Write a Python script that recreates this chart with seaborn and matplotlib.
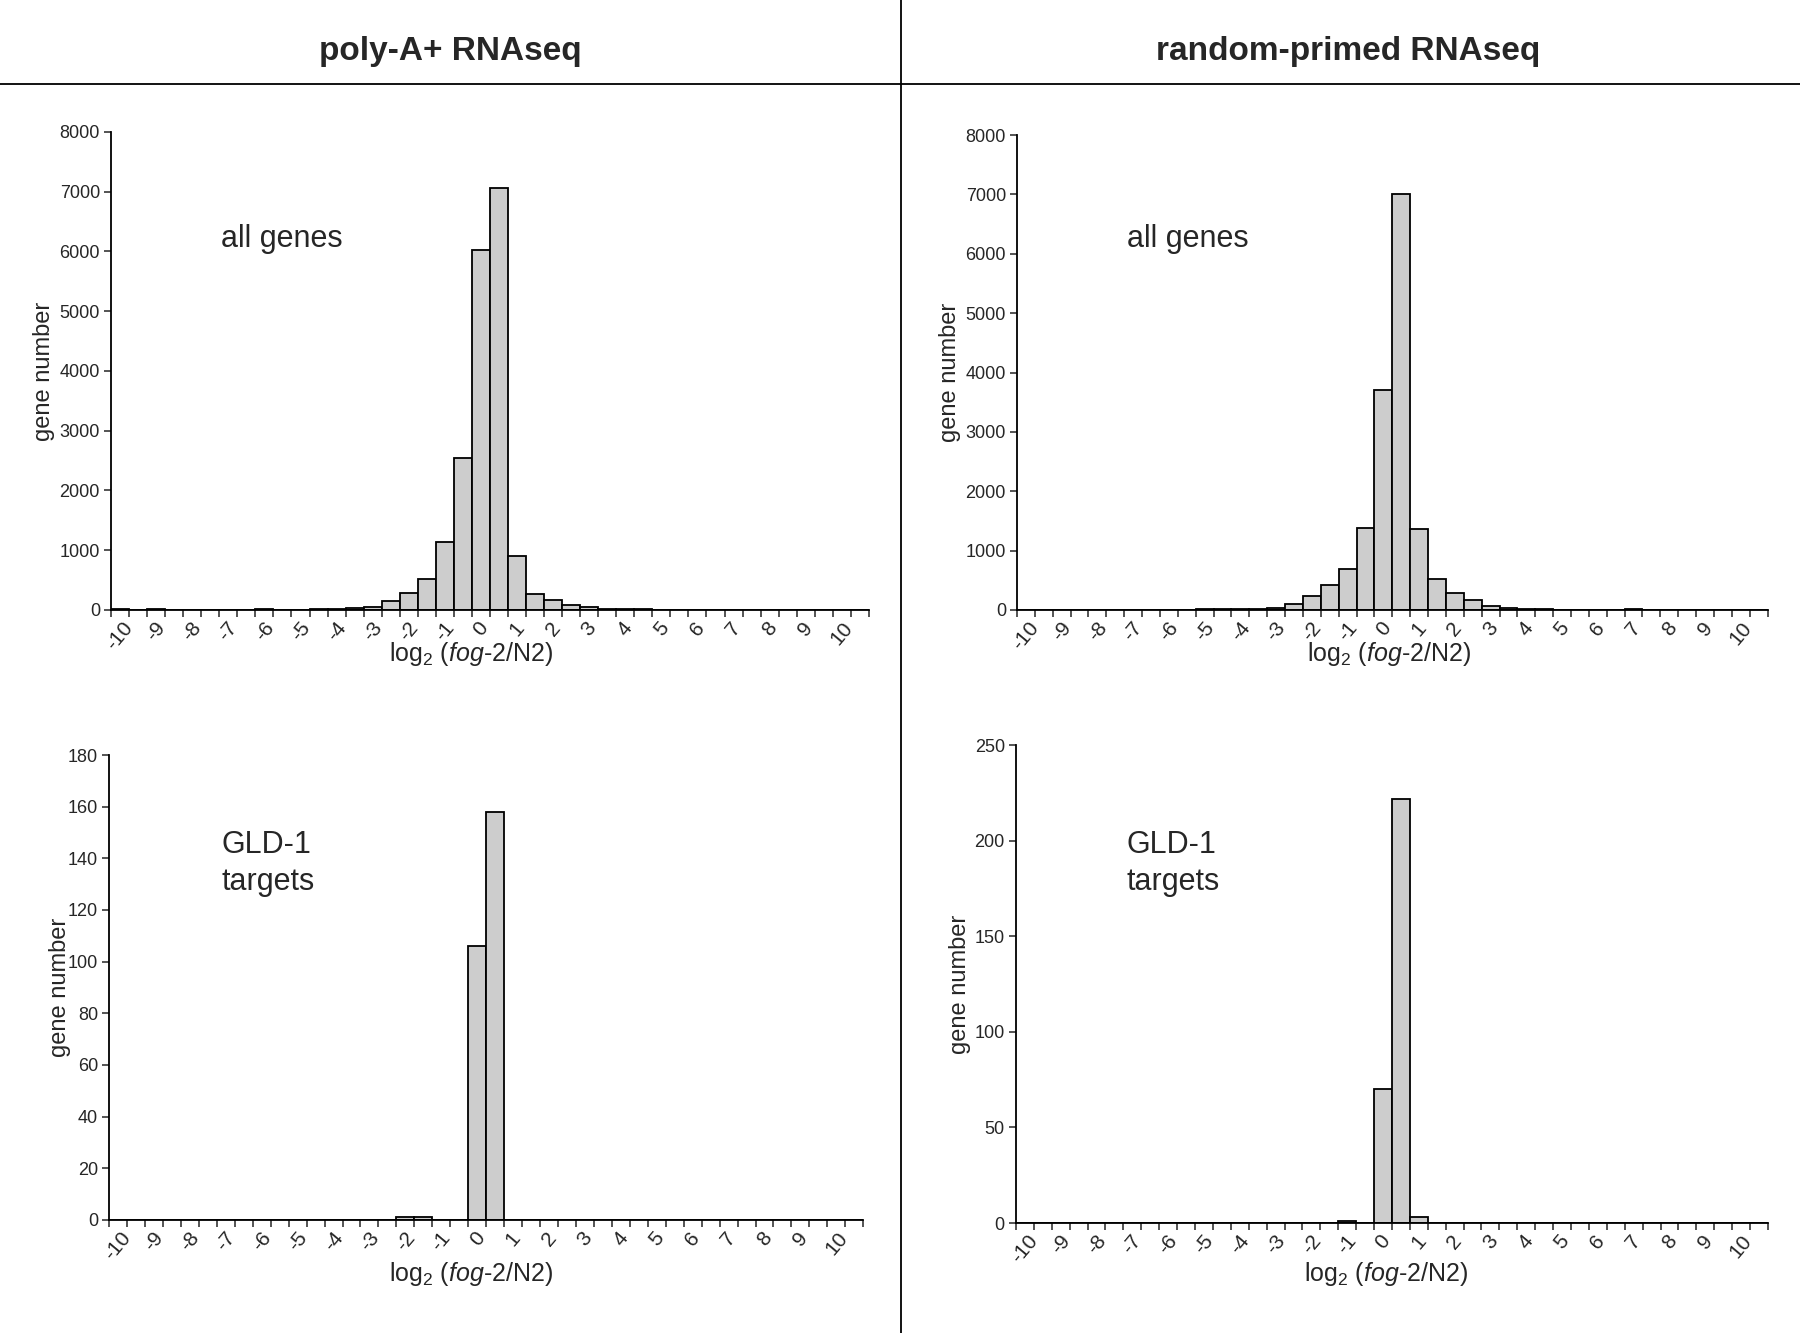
import numpy as np
import pandas as pd
import matplotlib
matplotlib.use('Agg')
import matplotlib.pyplot as plt
from matplotlib.lines import Line2D
import seaborn as sns

# histogram categories (Excel style: -10 .. 10 by 0.5, plus "More")
bins = [f'{b:g}' for b in np.arange(-10, 10.5, 0.5)] + ['More']

polyA_all = [20, 0, 18, 0, 0, 0, 0, 0, 15, 0, 0, 15, 15, 30, 55, 150, 280, 525, 1140, 2550,
             6020, 7060, 910, 262, 170, 80, 42, 15, 12, 12, 0, 0, 0, 0, 0, 0, 0, 0, 0, 0, 0, 0]
random_all = [0, 0, 0, 0, 0, 0, 0, 0, 0, 0, 15, 15, 15, 15, 40, 100, 235, 425, 690, 1380,
              3700, 7000, 1360, 517, 283, 165, 75, 36, 15, 15, 0, 0, 0, 0, 20, 0, 0, 0, 0, 0, 0, 0]
polyA_gld = [0, 0, 0, 0, 0, 0, 0, 0, 0, 0, 0, 0, 0, 0, 0, 0, 1, 1, 0, 0,
             106, 158, 0, 0, 0, 0, 0, 0, 0, 0, 0, 0, 0, 0, 0, 0, 0, 0, 0, 0, 0, 0]
random_gld = [0, 0, 0, 0, 0, 0, 0, 0, 0, 0, 0, 0, 0, 0, 0, 0, 0, 0, 1, 0,
              70, 222, 3, 0, 0, 0, 0, 0, 0, 0, 0, 0, 0, 0, 0, 0, 0, 0, 0, 0, 0, 0]

headers = ['poly-A+ RNAseq', 'random-primed RNAseq']

sns.set_style('white')
plt.rcParams['font.family'] = ['Liberation Sans', 'DejaVu Sans']
plt.rcParams['mathtext.fontset'] = 'custom'
plt.rcParams['mathtext.rm'] = 'Liberation Sans'
plt.rcParams['mathtext.it'] = 'Liberation Sans:italic'

fig = plt.figure(figsize=(18, 13.33), dpi=100)

panels = [
    # data, rect, ymax, ystep, text, text pos, ylabel x, xlabel pos
    (polyA_all, [0.0617, 0.5424, 0.421, 0.3586], 8000, 1000, 'all genes', (0.123, 0.821), -0.088, (0.475, -0.092)),
    (random_all, [0.565, 0.5424, 0.417, 0.3563], 8000, 1000, 'all genes', (0.626, 0.821), -0.089, (0.495, -0.092)),
    (polyA_gld, [0.0606, 0.0848, 0.419, 0.3488], 180, 20, 'GLD-1\ntargets', (0.123, 0.352), -0.065, (0.48, -0.116)),
    (random_gld, [0.5644, 0.0825, 0.4178, 0.3586], 250, 50, 'GLD-1\ntargets', (0.626, 0.352), -0.075, (0.492, -0.107)),
]

for counts, rect, ymax, ystep, txt, tpos, ylx, xlpos in panels:
    ax = fig.add_axes(rect)
    df = pd.DataFrame({'bin': bins, 'count': counts})
    sns.barplot(data=df, x='bin', y='count', order=bins, color='#cdcdcd', saturation=1,
                width=1, edgecolor='black', linewidth=1.3, ax=ax)
    ax.set_xlim(-0.5, len(bins) - 0.5)
    ax.set_ylim(0, ymax)
    ax.set_yticks(np.arange(0, ymax + 1, ystep))
    ax.tick_params(axis='y', direction='out', length=5, width=1.1, labelsize=13, pad=3, left=True)
    ax.set_xticks(range(0, 41, 2))
    ax.set_xticklabels(bins[0:41:2], rotation=50, ha='center', fontsize=15)
    ax.tick_params(axis='x', which='major', length=0, pad=6)
    ax.set_xticks(np.arange(-0.5, len(bins), 1), minor=True)
    ax.tick_params(axis='x', which='minor', direction='out', length=5, width=1.1, bottom=True)
    for s in ['top', 'right']:
        ax.spines[s].set_visible(False)
    for s in ['left', 'bottom']:
        ax.spines[s].set_color('black')
        ax.spines[s].set_linewidth(1.3)
    ax.set_ylabel('gene number', fontsize=17)
    ax.yaxis.set_label_coords(ylx, 0.5)
    ax.yaxis.label.set_va('center')
    ax.set_xlabel(r'log$_2$ ($\it{fog}$-$\it{2}$/N2)', fontsize=18)
    ax.xaxis.set_label_coords(*xlpos)
    ax.xaxis.label.set_va('center')
    fig.text(tpos[0], tpos[1], txt, fontsize=22, ha='left', va='center', linespacing=1.32)

fig.text(0.25, 0.9615, headers[0], fontsize=24, fontweight='bold', ha='center', va='center')
fig.text(0.749, 0.9615, headers[1], fontsize=24, fontweight='bold', ha='center', va='center')
fig.add_artist(Line2D([0, 1], [0.937, 0.937], color='black', linewidth=1.3))
fig.add_artist(Line2D([0.5006, 0.5006], [0, 1], color='black', linewidth=1.3))

fig.savefig('out.png', dpi=100, facecolor='white')
